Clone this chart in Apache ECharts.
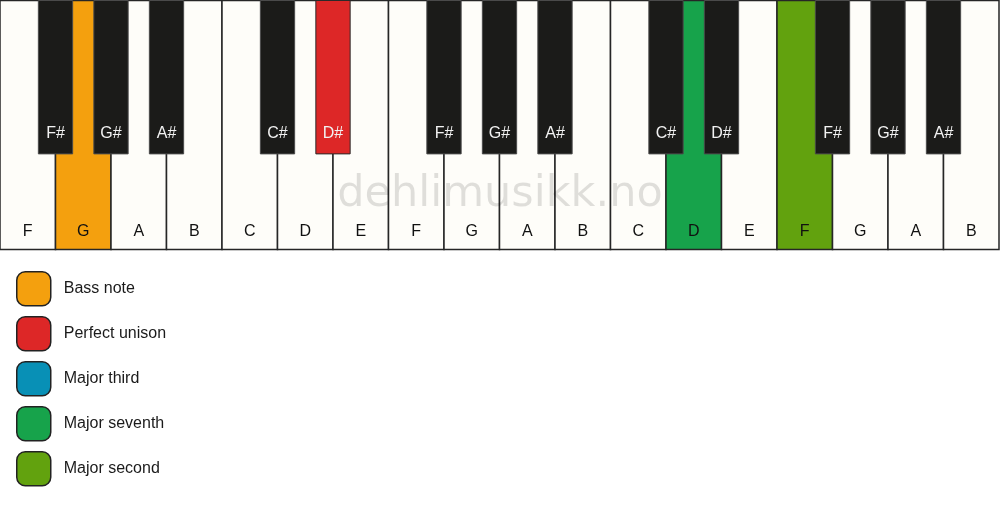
<!DOCTYPE html>
<html><head><meta charset="utf-8">
<script src="https://cdn.jsdelivr.net/npm/echarts@6/dist/echarts.min.js"></script>
<style>html,body{margin:0;padding:0;background:#fff}#c{width:1000px;height:506px}</style>
</head><body><div id="c"></div>
<script>
// ---- data ----
const whiteKeys = ['F','G','A','B','C','D','E','F','G','A','B','C','D','E','F','G','A','B'];
const blackKeys = ['F#','G#','A#','C#','D#','F#','G#','A#','C#','D#','F#','G#','A#'];
const blackKeyAfter = [0,1,2,4,5,7,8,9,11,12,14,15,16]; // white-key index the black key follows
const legendNames = ['Bass note','Perfect unison','Major third','Major seventh','Major second'];
const legendColors = ['#f4a00e','#dd2727','#0890b6','#17a34b','#62a20e'];
const whiteRoles = {1:0, 12:3, 14:4};   // white key index -> legend role
const blackRoles = {4:1};               // black key index -> legend role
const watermark = 'dehlimusikk.no';

// ---- styles ----
const WHITE_FILL = '#fefdf9', BLACK_FILL = '#1b1b19';
const BK_W = 0.618, BK_H = 0.616;
const FONT = '"Liberation Sans", Arial, sans-serif';

const whiteData = whiteKeys.map((n, i) => [i, whiteRoles[i] !== undefined ? whiteRoles[i] : -1]);
const blackData = blackKeys.map((n, i) => [blackKeyAfter[i] + 1, blackRoles[i] !== undefined ? blackRoles[i] : -1, i]);

function renderWhite(params, api) {
  const i = api.value(0), role = api.value(1);
  const p0 = api.coord([i, 0]), p1 = api.coord([i + 1, 1]);
  const ly = api.coord([i, 0.93])[1];
  return { type: 'group', children: [
    { type: 'rect', shape: { x: p0[0], y: p0[1], width: p1[0] - p0[0], height: p1[1] - p0[1] },
      style: { fill: role >= 0 ? legendColors[role] : WHITE_FILL, stroke: '#262626', lineWidth: 1.5 } },
    { type: 'text', style: { text: whiteKeys[i], x: (p0[0] + p1[0]) / 2, y: ly, align: 'center', verticalAlign: 'middle',
      fill: '#111', font: '16px ' + FONT } }
  ]};
}
function renderBlack(params, api) {
  const c = api.value(0), role = api.value(1), k = api.value(2);
  const p0 = api.coord([c - BK_W / 2, 0]), p1 = api.coord([c + BK_W / 2, BK_H]);
  const ly = api.coord([c, 0.536])[1];
  return { type: 'group', children: [
    { type: 'rect', shape: { x: p0[0], y: p0[1], width: p1[0] - p0[0], height: p1[1] - p0[1] },
      style: { fill: role >= 0 ? legendColors[role] : BLACK_FILL, stroke: role >= 0 ? '#2a2a2a' : '#4a4a4a', lineWidth: 1 } },
    { type: 'text', style: { text: blackKeys[k], x: (p0[0] + p1[0]) / 2, y: ly, align: 'center', verticalAlign: 'middle',
      fill: '#f2f2f2', font: '16px ' + FONT } }
  ]};
}

const chart = echarts.init(document.getElementById('c'), null, { renderer: 'canvas' });
const legendSeries = legendNames.map((n, i) => ({
  type: 'custom', name: n, data: [], renderItem: () => null, itemStyle: { color: legendColors[i] }
}));
chart.setOption({
  animation: false,
  backgroundColor: '#ffffff',
  grid: { left: 0, right: 1, top: 0.5, height: 249 },
  xAxis: { type: 'value', min: 0, max: whiteKeys.length, show: false },
  yAxis: { type: 'value', min: 0, max: 1, inverse: true, show: false },
  legend: {
    orient: 'vertical', left: 11, top: 266, padding: 5, itemWidth: 34, itemHeight: 34, itemGap: 9.5,
    icon: 'roundRect', selectedMode: false,
    itemStyle: { borderColor: '#222', borderWidth: 1.5 },
    textStyle: { fontSize: 16, color: '#1a1a1a', fontFamily: FONT, padding: [3, 0, 0, 8] },
    data: legendNames
  },
  graphic: [{
    type: 'text', z: 100, silent: true,
    style: { text: watermark, x: 500, y: 195, align: 'center', verticalAlign: 'middle',
      font: '43px "DejaVu Sans", sans-serif', fill: 'rgba(0,0,0,0.12)' }
  }],
  series: [
    { type: 'custom', name: 'white', data: whiteData, renderItem: renderWhite, z: 2, encode: { x: 0 } },
    { type: 'custom', name: 'black', data: blackData, renderItem: renderBlack, z: 3, encode: { x: 0 } }
  ].concat(legendSeries)
});
</script></body></html>
